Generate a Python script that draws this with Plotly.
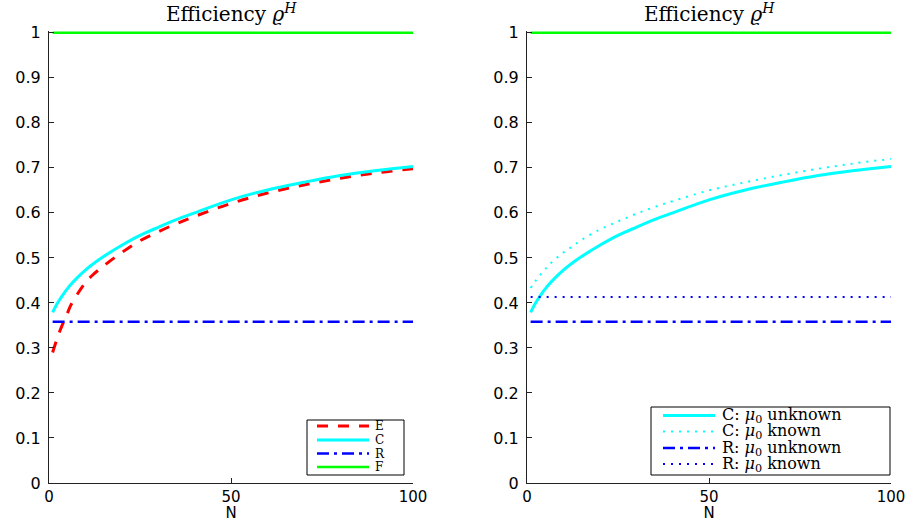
import plotly.graph_objects as go

# ---------------- data ----------------
N_pts = [1, 2, 3, 4, 5, 6, 8, 10, 12, 15, 20, 25, 30, 35, 40, 50, 60, 70, 80, 90, 100]
E_vals = [0.290, 0.315, 0.338, 0.358, 0.376, 0.395, 0.422, 0.445, 0.462, 0.482, 0.512, 0.538,
          0.558, 0.576, 0.592, 0.621, 0.644, 0.662, 0.677, 0.689, 0.698]
C_unknown = [0.379, 0.395, 0.408, 0.420, 0.431, 0.441, 0.458, 0.473, 0.486, 0.503, 0.528, 0.550,
             0.568, 0.585, 0.600, 0.629, 0.651, 0.668, 0.683, 0.694, 0.703]
C_known = [0.433, 0.445, 0.456, 0.466, 0.475, 0.484, 0.499, 0.512, 0.523, 0.540, 0.563, 0.581,
           0.598, 0.613, 0.626, 0.650, 0.668, 0.684, 0.698, 0.710, 0.720]
R_unknown = 0.358
R_known = 0.413
F_val = 1.0
N_range = [1, 100]

x_ticks = [0, 50, 100]
y_ticks = [0, 0.1, 0.2, 0.3, 0.4, 0.5, 0.6, 0.7, 0.8, 0.9, 1]
title_text = "Efficiency <i>ϱ</i><sup><i>H</i></sup>"
left_names = ["E", "C", "R", "F"]
right_names = ["C: <i>μ</i><sub>0</sub> unknown", "C: <i>μ</i><sub>0</sub> known",
               "R: <i>μ</i><sub>0</sub> unknown", "R: <i>μ</i><sub>0</sub> known"]

# ---------------- styles ----------------
RED, CYAN, BLUE, GREEN = "#ff0000", "#00ffff", "#0000ff", "#00ff00"
st_E = dict(color=RED, width=3, dash="11px,10px")
st_C = dict(color=CYAN, width=3, dash="solid")
st_Ck = dict(color=CYAN, width=2, dash="2px,6px")
st_R = dict(color=BLUE, width=2.5, dash="12px,5px,3px,5px")
st_Rk = dict(color=BLUE, width=2, dash="2px,6px")
st_F = dict(color=GREEN, width=2.5, dash="solid")

W, H = 914, 522
ML, MR, MT, MB = 49, 23, 31, 39
PW, PH = W - ML - MR, H - MT - MB

def px_x(X):
    return (X - ML) / PW

def px_y(Y):
    return (H - MB - Y) / PH

fig = go.Figure()
serif = "DejaVu Serif"
sans = "DejaVu Sans"

def add(x, y, name, style, xa, ya):
    fig.add_trace(go.Scatter(x=x, y=y, name=name, mode="lines", line_shape="spline",
                             line=style, xaxis=xa, yaxis=ya, showlegend=False))

# left panel
add(N_pts, E_vals, left_names[0], st_E, "x", "y")
add(N_pts, C_unknown, left_names[1], st_C, "x", "y")
add(N_range, [R_unknown] * 2, left_names[2], st_R, "x", "y")
add(N_range, [F_val] * 2, left_names[3], st_F, "x", "y")

# right panel
add(N_pts, C_unknown, right_names[0], st_C, "x2", "y2")
add(N_pts, C_known, right_names[1], st_Ck, "x2", "y2")
add(N_range, [R_unknown] * 2, right_names[2], st_R, "x2", "y2")
add(N_range, [R_known] * 2, right_names[3], st_Rk, "x2", "y2")
add(N_range, [F_val] * 2, "F", st_F, "x2", "y2")

x1dom = [0, px_x(413)]
x2dom = [px_x(527), 1]

common_x = dict(range=[0, 100], tickvals=x_ticks, ticks="inside", ticklen=5, tickcolor="#222",
                showline=True, linecolor="#222", linewidth=1, showgrid=False, zeroline=False,
                automargin=False, ticklabelstandoff=0,
                tickfont=dict(family=sans, size=15, color="#000"),
                title=dict(text="N", font=dict(family=sans, size=15, color="#000"), standoff=0))
common_y = dict(range=[0, 1.004], tickvals=y_ticks, ticks="inside", ticklen=5, tickcolor="#222",
                showline=True, linecolor="#222", linewidth=1, showgrid=False, zeroline=False,
                automargin=False, ticklabelstandoff=4,
                tickfont=dict(family=sans, size=16, color="#000"), domain=[0, 1])

shapes = []
annotations = []

def legend_box(x0, x1, y0, y1, entries, styles, line_x0, line_x1, text_x, rows, fsize):
    shapes.append(dict(type="rect", xref="paper", yref="paper",
                       x0=px_x(x0), x1=px_x(x1), y0=px_y(y1), y1=px_y(y0),
                       line=dict(color="#000", width=1), fillcolor="white", layer="above"))
    for name, style, ry in zip(entries, styles, rows):
        shapes.append(dict(type="line", xref="paper", yref="paper",
                           x0=px_x(line_x0), x1=px_x(line_x1), y0=px_y(ry), y1=px_y(ry),
                           line=style, layer="above"))
        annotations.append(dict(text=name, x=px_x(text_x), y=px_y(ry), xref="paper", yref="paper",
                                xanchor="left", yanchor="middle", showarrow=False,
                                font=dict(family=serif, size=fsize, color="#000")))

legend_box(307, 404, 420, 475, left_names, [st_E, st_C, st_R, st_F],
           317, 369, 373, [426, 440, 453.5, 467], 12)
legend_box(651, 890, 407, 475, right_names, [st_C, st_Ck, st_R, st_Rk],
           663, 715, 720, [415.5, 431.5, 448, 464], 16)

for dom in (x1dom, x2dom):
    annotations.append(dict(text=title_text, x=(dom[0] + dom[1]) / 2, y=px_y(13),
                            xref="paper", yref="paper", xanchor="center", yanchor="middle",
                            showarrow=False, font=dict(family=serif, size=20, color="#000")))

fig.update_layout(
    width=W, height=H, margin=dict(l=ML, r=MR, t=MT, b=MB),
    paper_bgcolor="white", plot_bgcolor="white",
    xaxis=dict(domain=x1dom, anchor="y", **common_x),
    yaxis=dict(anchor="x", **common_y),
    xaxis2=dict(domain=x2dom, anchor="y2", **common_x),
    yaxis2=dict(anchor="x2", **common_y),
    showlegend=False,
    shapes=shapes,
    annotations=annotations,
)

fig.write_html("out.html", config={"displayModeBar": False},
               post_script="document.body.style.margin='0';")
